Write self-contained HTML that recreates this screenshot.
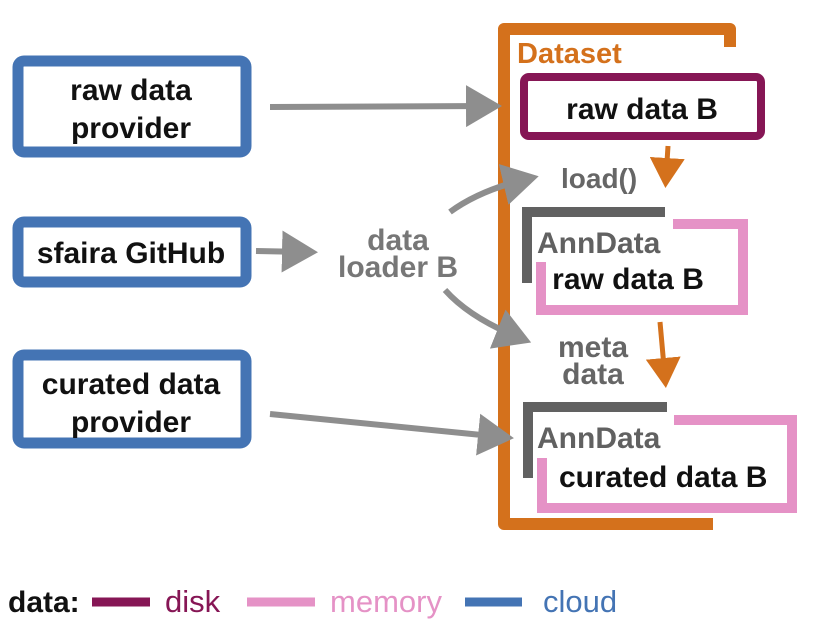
<!DOCTYPE html>
<html><head><style>
body{margin:0;background:#fff}
svg{display:block}
text{font-family:"Liberation Sans",Arial,sans-serif;font-weight:bold}
</style></head><body>
<svg width="833" height="625" viewBox="0 0 833 625" xmlns="http://www.w3.org/2000/svg">
<defs>
<marker id="ga" markerWidth="7" markerHeight="7" refX="4" refY="3.5" orient="auto" markerUnits="strokeWidth"><path d="M0,0 L6,3.5 L0,7 Z" fill="#8e8e8e"/></marker>
<marker id="oa" markerWidth="7" markerHeight="7" refX="4" refY="3.5" orient="auto" markerUnits="strokeWidth"><path d="M0,0 L6,3.5 L0,7 Z" fill="#d4711c"/></marker>
</defs>
<!-- blue boxes -->
<rect x="18" y="61" width="228" height="91" rx="6" fill="#fff" stroke="#4474b4" stroke-width="11"/>
<rect x="18" y="222" width="228" height="60" rx="6" fill="#fff" stroke="#4474b4" stroke-width="11"/>
<rect x="18" y="355" width="228" height="88" rx="6" fill="#fff" stroke="#4474b4" stroke-width="11"/>
<g font-size="30" fill="#111" text-anchor="middle">
<text x="131" y="100">raw data</text><text x="131" y="138">provider</text>
<text x="131" y="263">sfaira GitHub</text>
<text x="131" y="394">curated data</text><text x="131" y="432">provider</text>
</g>
<!-- dataset -->
<path d="M730,47 L730,29 L504,29 L504,524 L713,524" fill="none" stroke="#d4711c" stroke-width="12" stroke-linejoin="round"/>
<text x="517" y="63" font-size="29" fill="#d4711c">Dataset</text>
<rect x="524" y="77" width="237" height="59" rx="5" fill="#fff" stroke="#861655" stroke-width="8"/>
<text x="642" y="119" font-size="30" fill="#111" text-anchor="middle">raw data B</text>
<text x="561" y="188" font-size="28" fill="#666">load()</text>
<!-- AnnData 1 -->
<path d="M527,283 L527,212 L665,212" fill="none" stroke="#616161" stroke-width="10"/>
<path d="M673,224 L743,224 L743,310 L541,310 L541,262" fill="none" stroke="#e592c6" stroke-width="10"/>
<text x="537" y="253" font-size="30" fill="#616161">AnnData</text>
<text x="628" y="289" font-size="30" fill="#111" text-anchor="middle">raw data B</text>
<text x="593" y="357" font-size="30" fill="#666" text-anchor="middle">meta</text>
<text x="593" y="384" font-size="30" fill="#666" text-anchor="middle">data</text>
<!-- AnnData 2 -->
<path d="M528,478 L528,407 L667,407" fill="none" stroke="#616161" stroke-width="10"/>
<path d="M674,420 L792,420 L792,508 L542,508 L542,458" fill="none" stroke="#e592c6" stroke-width="10"/>
<text x="537" y="448" font-size="30" fill="#616161">AnnData</text>
<text x="559" y="487" font-size="30" fill="#111">curated data B</text>
<!-- orange arrows -->
<line x1="668" y1="146" x2="666" y2="178" stroke="#d4711c" stroke-width="5" marker-end="url(#oa)"/>
<line x1="660" y1="322" x2="665" y2="378" stroke="#d4711c" stroke-width="5" marker-end="url(#oa)"/>
<!-- gray arrows -->
<g stroke="#8e8e8e" stroke-width="6" fill="none">
<line x1="270" y1="107" x2="490" y2="106" marker-end="url(#ga)"/>
<line x1="256" y1="251" x2="306" y2="252" marker-end="url(#ga)"/>
<path d="M450,212 Q480,190 527,179" marker-end="url(#ga)"/>
<path d="M445,290 Q470,318 520,338" marker-end="url(#ga)"/>
<line x1="270" y1="414" x2="502" y2="437" marker-end="url(#ga)"/>
</g>
<text x="398" y="250" font-size="30" fill="#777" text-anchor="middle">data</text>
<text x="398" y="277" font-size="30" fill="#777" text-anchor="middle">loader B</text>
<!-- legend -->
<text x="8" y="612" font-size="30" fill="#111">data:</text>
<line x1="92" y1="602" x2="150" y2="602" stroke="#861655" stroke-width="9"/>
<text x="165" y="612" font-size="31" style="font-weight:normal" fill="#861655">disk</text>
<line x1="247" y1="602" x2="315" y2="602" stroke="#e592c6" stroke-width="9"/>
<text x="330" y="612" font-size="31" style="font-weight:normal" fill="#e592c6">memory</text>
<line x1="465" y1="602" x2="522" y2="602" stroke="#4474b4" stroke-width="9"/>
<text x="543" y="612" font-size="31" style="font-weight:normal" fill="#4474b4">cloud</text>
</svg>
</body></html>
